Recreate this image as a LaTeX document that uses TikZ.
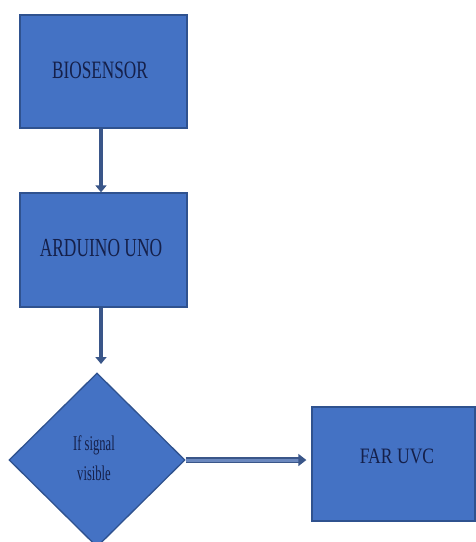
\documentclass[tikz,border=0pt]{standalone}
\usepackage{fontspec}
\setmainfont{Liberation Serif}
\usetikzlibrary{shapes.geometric,arrows.meta}
\definecolor{boxfill}{HTML}{4472C4}
\definecolor{boxline}{HTML}{2F528F}
\definecolor{txt}{HTML}{15204A}
\definecolor{arr}{HTML}{3A5689}
\definecolor{arrin}{HTML}{6B88BE}
\tikzset{
  blk/.style={draw=boxline,line width=1.3pt,fill=boxfill,rectangle,inner sep=0pt,text=txt},
  dec/.style={draw=boxline,line width=1.3pt,fill=boxfill,diamond,inner sep=0pt,text=txt,align=center},
  flow/.style={draw=arr,line width=3.5pt,-{Triangle[length=7pt,width=11pt]}},
  flowh/.style={draw=arr,double=arrin,double distance=3pt,line width=1.6pt,-{Triangle[length=8pt,width=12pt]}}
}
\newcommand{\lbl}[3]{{\fontsize{#1}{#1}\selectfont\scalebox{#2}[1]{#3}}}
\begin{document}
\begin{tikzpicture}[x=1pt,y=-1pt]
\useasboundingbox (0,0) rectangle (476,542);
\fill[white] (0,0) rectangle (476,542);
\node[blk,minimum width=167pt,minimum height=113pt] (bio) at (103.5,71.5) {};
\node[txt] at (100,70) {\lbl{25}{0.69}{BIOSENSOR}};
\node[blk,minimum width=167pt,minimum height=114pt] (ard) at (103.5,250) {};
\node[txt] at (101,248) {\lbl{26}{0.67}{ARDUINO UNO}};
\node[dec,minimum width=176pt,minimum height=174pt] (dec) at (97,460) {};
\node[txt,align=center,font=\fontsize{21}{30}\selectfont] at (94,458) {\scalebox{0.6}[1]{If signal}\\\scalebox{0.6}[1]{visible}};
\node[blk,minimum width=163pt,minimum height=114pt] (far) at (393.5,464) {};
\node[txt] at (397,456) {\lbl{22}{0.8}{FAR UVC}};
\coordinate (a2) at ([xshift=-2.5pt]ard.south);
\draw[flow] ([xshift=-2.5pt]bio.south) -- ([xshift=-2.5pt]ard.north);
\draw[flow] (a2) -- (a2 |- 0,364);
\draw[flowh,shorten >=5pt] (dec.east) -- (dec.east -| far.west);
\end{tikzpicture}
\end{document}
